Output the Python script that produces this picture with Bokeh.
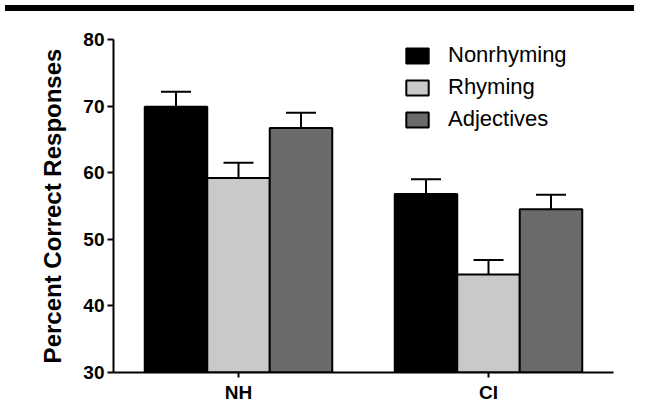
from bokeh.plotting import figure
from bokeh.models import (ColumnDataSource, FactorRange, Range1d, Legend, LegendItem,
                          Whisker, TeeHead, SingleIntervalTicker, Div)
from bokeh.transform import dodge
from bokeh.layouts import column
from bokeh.embed import file_html
from bokeh.resources import INLINE

# ---- data ----
groups = ["NH", "CI"]
series = ["Nonrhyming", "Rhyming", "Adjectives"]
nonrhyming = [69.9, 56.8]
nonrhyming_err = [2.25, 2.2]
rhyming = [59.2, 44.7]
rhyming_err = [2.3, 2.2]
adjectives = [66.7, 54.5]
adjectives_err = [2.3, 2.2]
y_ticks_start, y_ticks_end, y_tick_step = 30, 80, 10

colors = ["#000000", "#c9c9c9", "#6b6b6b"]
offsets = [-0.25, 0.0, 0.25]
FONT = "Liberation Sans"

means = [nonrhyming, rhyming, adjectives]
errs = [nonrhyming_err, rhyming_err, adjectives_err]

data = {"group": groups}
for name, m, e in zip(series, means, errs):
    data[name] = m
    data[name + "_hi"] = [a + b for a, b in zip(m, e)]
source = ColumnDataSource(data)

# ---- top band ----
band = Div(text="", width=629, height=6, styles={"background-color": "black"})

# ---- main plot ----
p = figure(width=629, height=390, x_range=FactorRange(*groups, range_padding=0),
           y_range=Range1d(y_ticks_start, y_ticks_end),
           toolbar_location=None, output_backend="svg",
           min_border_left=113, min_border_right=16, min_border_top=23,
           min_border_bottom=34, outline_line_color=None)
p.grid.visible = False

items = []
for name, off, col in zip(series, offsets, colors):
    r = p.vbar(x=dodge("group", off, range=p.x_range), top=name, bottom=0, width=0.25,
               source=source, fill_color=col, line_color="black", line_width=2)
    items.append(LegendItem(label=name, renderers=[r]))
    w = Whisker(source=source, base=dodge("group", off, range=p.x_range),
                lower=name, upper=name + "_hi", dimension="height",
                line_color="black", line_width=2, level="overlay",
                upper_head=TeeHead(size=30, line_width=2, line_color="black"),
                lower_head=None)
    p.add_layout(w)

legend = Legend(items=items, location=(290, 240), padding=0, margin=0,
                border_line_color=None, background_fill_alpha=0,
                glyph_width=28, glyph_height=19, label_height=19, spacing=6,
                label_standoff=17, label_text_font=FONT, label_text_font_size="22px",
                label_text_color="black")
p.add_layout(legend)

# axes
p.yaxis.ticker = SingleIntervalTicker(interval=y_tick_step)
p.yaxis.axis_label = "Percent Correct Responses"
p.yaxis.axis_label_text_font = FONT
p.yaxis.axis_label_text_font_style = "bold"
p.yaxis.axis_label_text_font_size = "24px"
p.yaxis.axis_label_text_color = "black"
p.yaxis.axis_label_standoff = 14
p.yaxis.major_label_standoff = 3

for ax in (p.xaxis, p.yaxis):
    ax.axis_line_width = 2
    ax.axis_line_color = "black"
    ax.major_tick_line_width = 2
    ax.major_tick_line_color = "black"
    ax.major_tick_in = 0
    ax.minor_tick_line_color = None
    ax.major_label_text_font = FONT
    ax.major_label_text_font_style = "bold"
    ax.major_label_text_font_size = "19px"
    ax.major_label_text_color = "black"
p.yaxis.major_tick_out = 6
p.xaxis.major_tick_out = 5
p.xaxis.major_label_standoff = 4

layout = column(band, p, spacing=0)
open("out.html", "w").write(file_html(layout, INLINE))
